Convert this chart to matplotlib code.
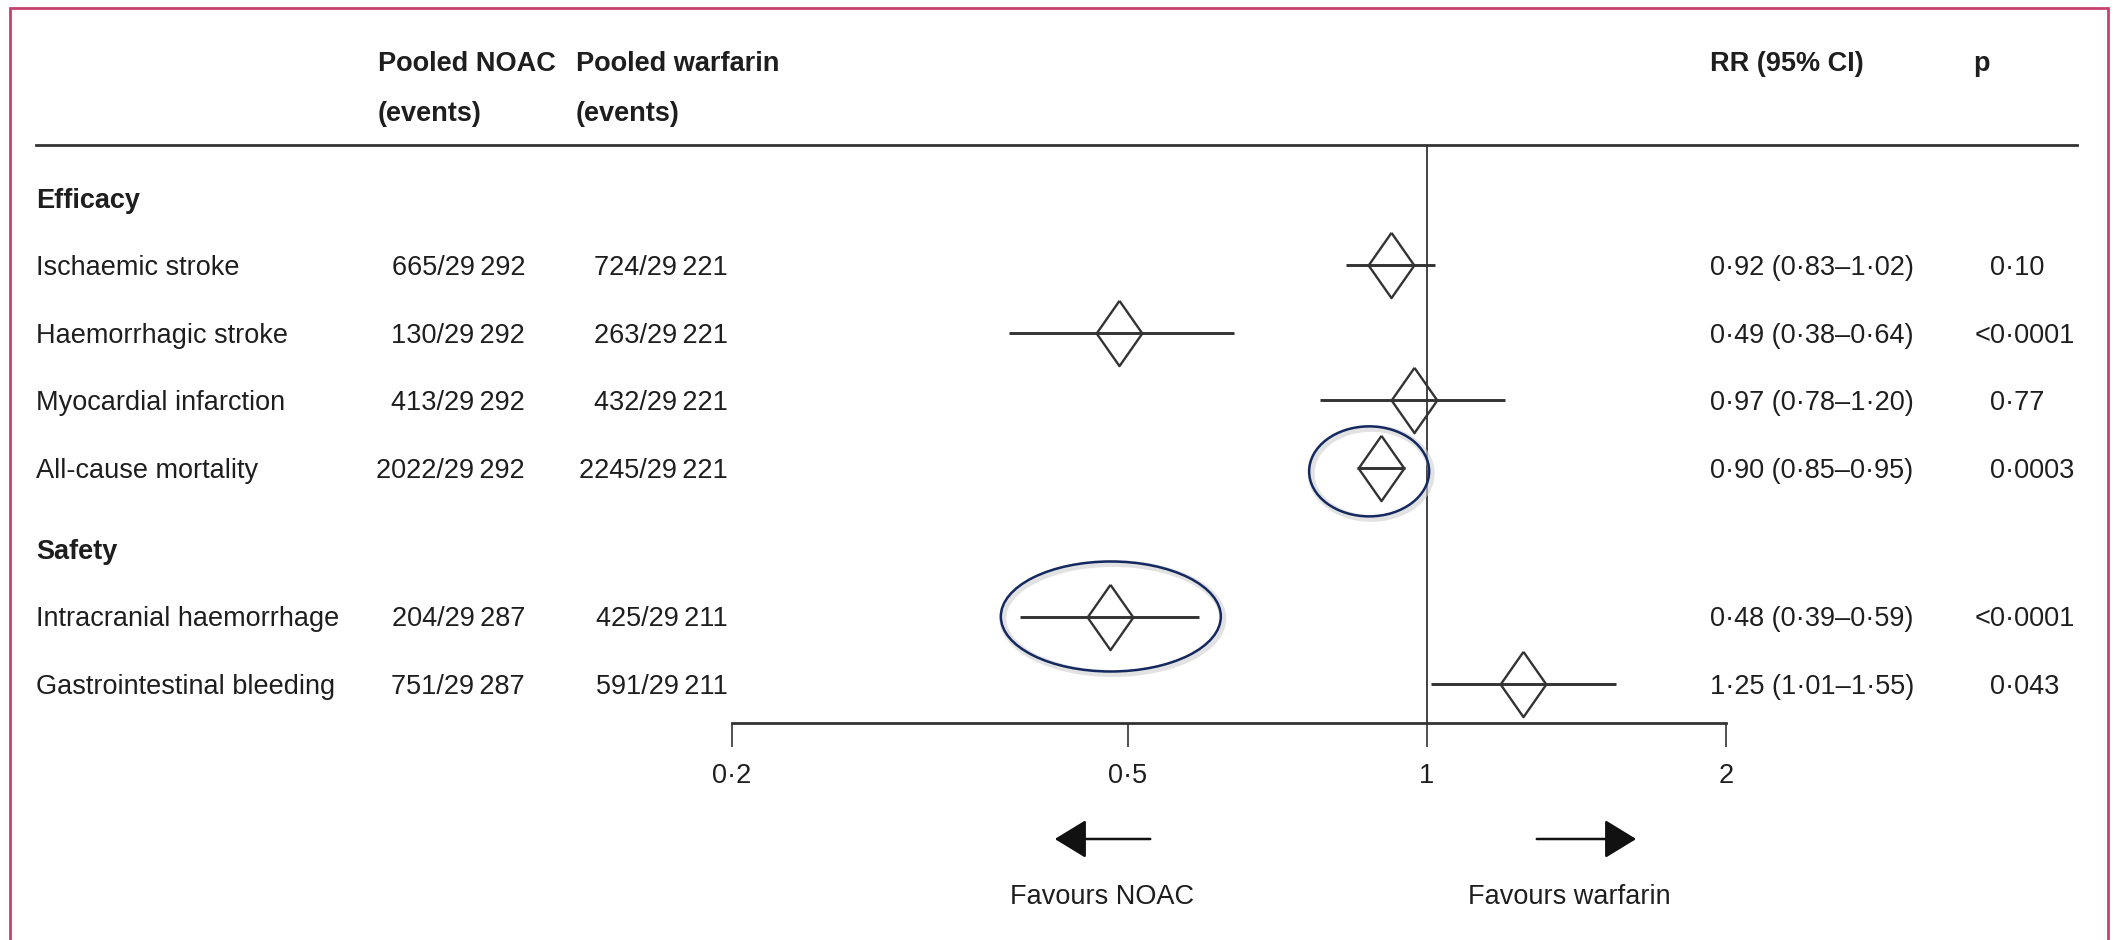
import numpy as np
import matplotlib
matplotlib.use("Agg")
import matplotlib.pyplot as plt
from matplotlib import transforms, font_manager
from matplotlib.patches import Ellipse, FancyArrowPatch, Rectangle
from matplotlib.lines import Line2D
from matplotlib.ticker import FixedLocator, FixedFormatter, NullLocator

# ---------------- data ----------------
group_names = ["Efficacy", "Safety"]
outcomes = ["Ischaemic stroke", "Haemorrhagic stroke", "Myocardial infarction",
            "All-cause mortality", "Intracranial haemorrhage", "Gastrointestinal bleeding"]
outcome_group = [0, 0, 0, 0, 1, 1]
noac_events = [665, 130, 413, 2022, 204, 751]
noac_total = [29292, 29292, 29292, 29292, 29287, 29287]
warf_events = [724, 263, 432, 2245, 425, 591]
warf_total = [29221, 29221, 29221, 29221, 29211, 29211]
rr = [0.92, 0.49, 0.97, 0.90, 0.48, 1.25]
ci_low = [0.83, 0.38, 0.78, 0.85, 0.39, 1.01]
ci_high = [1.02, 0.64, 1.20, 0.95, 0.59, 1.55]
p_values = ["0·10", "<0·0001", "0·77", "0·0003", "<0·0001", "0·043"]
xticks = [0.2, 0.5, 1, 2]
xtick_labels = ["0·2", "0·5", "1", "2"]
highlighted = ["All-cause mortality", "Intracranial haemorrhage"]

# ---------------- fonts ----------------
names = {f.name for f in font_manager.fontManager.ttflist}
if "Liberation Sans Narrow" in names:
    FAMILY, FS = "Liberation Sans Narrow", 23
else:
    FAMILY, FS = "Liberation Sans", 19.5
plt.rcParams["font.family"] = [FAMILY, "DejaVu Sans"]
TXT = "#1e1e1e"
LINE = "#333333"

W, H = 2115, 940
fig = plt.figure(figsize=(W / 100, H / 100), dpi=100)
fig.patch.set_facecolor("white")

def fx(px):
    return px / W

def fy(py):
    return 1 - py / H

# row layout
row_unit = 67.5
y0_px = 198
ys, group_y = [], {}
y = 0.0
prev = None
for name, g in zip(outcomes, outcome_group):
    if g != prev:
        if prev is not None:
            y += 0.2
        group_y[g] = y
        y += 1
        prev = g
    ys.append(y)
    y += 1
ys = np.array(ys)

ax_top_px, ax_bot_px = 145, 723
ax = fig.add_axes([fx(732), fy(ax_bot_px), fx(1726) - fx(732), (ax_bot_px - ax_top_px) / H])
ax.set_xscale("log")
ax.set_xlim(xticks[0], xticks[-1])
ax.set_ylim((ax_bot_px - y0_px) / row_unit, (ax_top_px - y0_px) / row_unit)
for s in ["top", "left", "right"]:
    ax.spines[s].set_visible(False)
ax.spines["bottom"].set_linewidth(2.0)
ax.spines["bottom"].set_color(LINE)
ax.patch.set_alpha(0)
ax.xaxis.set_major_locator(FixedLocator(xticks))
ax.xaxis.set_major_formatter(FixedFormatter(xtick_labels))
ax.xaxis.set_minor_locator(NullLocator())
ax.tick_params(axis="x", length=17, width=1.2, color=LINE, pad=12,
               labelsize=FS, labelcolor=TXT)
ax.set_yticks([])

ax.axvline(1, color=LINE, lw=1.3, zorder=1)

# CI lines and diamonds
ax.hlines(ys, ci_low, ci_high, color=LINE, lw=2.1, zorder=2)
diamond = [(0, 1), (0.7, 0), (0, -1), (-0.7, 0), (0, 1)]
ax.plot(rr, ys, ls="none", marker=diamond, ms=47, mfc="none",
        mec=LINE, mew=1.7, zorder=3)

# highlight ellipses (sizes in inches, centres in data coords)
ell_spec = {"All-cause mortality": (0.875, 0.05, 1.2, 0.9),
            "Intracranial haemorrhage": (0.481, 0.0, 2.2, 1.1)}
for name in highlighted:
    i = outcomes.index(name)
    cx, dy, w, h = ell_spec[name]
    tr = fig.dpi_scale_trans + transforms.ScaledTranslation(cx, ys[i] + dy, ax.transData)
    shadow = Ellipse((0.02, -0.02), w, h, transform=tr, fill=False,
                     ec="#cfcfcf", lw=5, alpha=0.6, zorder=3)
    ax.add_patch(shadow)
    e = Ellipse((0, 0), w, h, transform=tr, fill=False, ec="#14295f", lw=1.8, zorder=4)
    ax.add_patch(e)

# text columns
btr = transforms.blended_transform_factory(fig.transFigure, ax.transData)
for g, gy in group_y.items():
    ax.text(fx(36), gy, group_names[g], transform=btr, ha="left", va="center_baseline",
            fontsize=FS, fontweight="bold", color=TXT)

def fmt_num(n):
    return f"{n:,}".replace(",", "\u2009")

for i, name in enumerate(outcomes):
    yy = ys[i]
    ax.text(fx(36), yy, name, transform=btr, ha="left", va="center_baseline",
            fontsize=FS, color=TXT)
    ax.text(fx(525), yy, f"{noac_events[i]}/{fmt_num(noac_total[i])}", transform=btr,
            ha="right", va="center_baseline", fontsize=FS, color=TXT)
    ax.text(fx(728), yy, f"{warf_events[i]}/{fmt_num(warf_total[i])}", transform=btr,
            ha="right", va="center_baseline", fontsize=FS, color=TXT)
    rr_s = f"{rr[i]:.2f} ({ci_low[i]:.2f}–{ci_high[i]:.2f})".replace(".", "·")
    ax.text(fx(1812), yy, rr_s, transform=btr, ha="center", va="center_baseline",
            fontsize=FS, color=TXT)
    p = p_values[i]
    if p.startswith("<"):
        ax.text(fx(1990), yy, "<", transform=btr, ha="right", va="center_baseline",
                fontsize=FS, color=TXT)
        p = p[1:]
    ax.text(fx(1990), yy, p, transform=btr, ha="left", va="center_baseline",
            fontsize=FS, color=TXT)

# headers
for x_px, lines in [(378, ["Pooled NOAC", "(events)"]), (576, ["Pooled warfarin", "(events)"]),
                    (1710, ["RR (95% CI)"]), (1973, ["p"])]:
    for k, t in enumerate(lines):
        fig.text(fx(x_px), fy(61 + 50 * k), t, ha="left", va="center_baseline",
                 fontsize=FS, fontweight="bold", color=TXT)

# header rule
fig.add_artist(Line2D([fx(36), fx(2077)], [fy(145), fy(145)], transform=fig.transFigure,
                      color=LINE, lw=2.0))

# favours arrows
for x0, x1, label, lx in [(1153, 1052, "Favours NOAC", 1102), (1534, 1639, "Favours warfarin", 1569)]:
    arr = FancyArrowPatch((fx(x0), fy(839)), (fx(x1), fy(839)), transform=fig.transFigure,
                          arrowstyle="-|>,head_length=0.9,head_width=0.55",
                          mutation_scale=22, color="#111111", lw=1.8)
    fig.add_artist(arr)
    fig.text(fx(lx), fy(894), label, ha="center", va="center_baseline",
             fontsize=FS, color=TXT)

# outer border
fig.add_artist(Rectangle((fx(10), -0.1), fx(2108) - fx(10), fy(8) + 0.1,
                         transform=fig.transFigure, fill=False, ec="#c4426c", lw=2.0))

fig.savefig("out.png", dpi=100)
